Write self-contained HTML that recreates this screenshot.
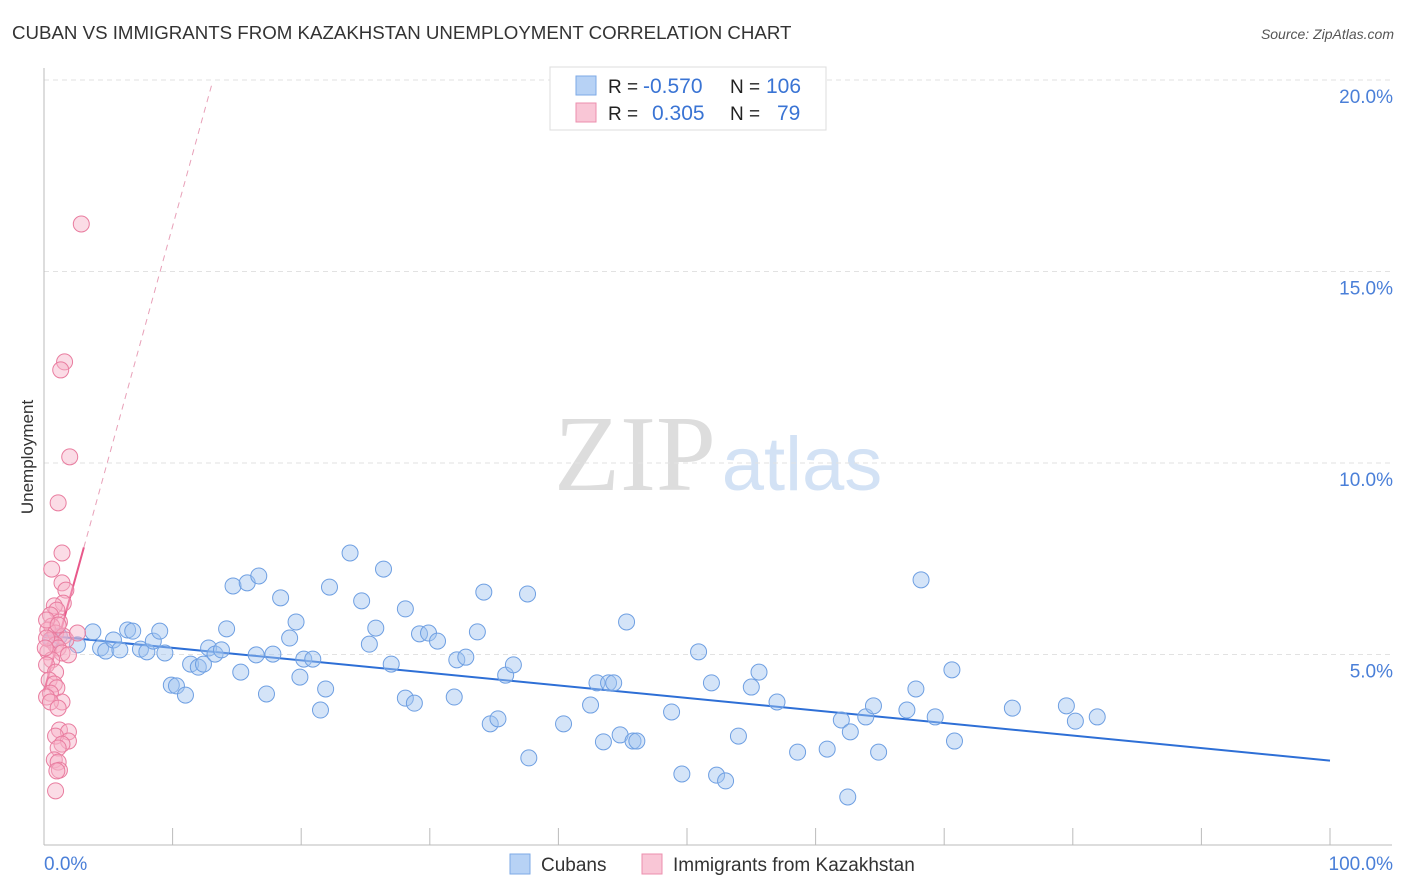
<!DOCTYPE html>
<html><head><meta charset="utf-8"><style>
body{margin:0;background:#fff;font-family:"Liberation Sans",sans-serif;}
#wrap{position:relative;width:1406px;height:892px;overflow:hidden;}
</style></head><body><div id="wrap">
<svg id="svg" width="1406" height="892" xmlns="http://www.w3.org/2000/svg">
<text x="12" y="39" font-size="18.7" fill="#333">CUBAN VS IMMIGRANTS FROM KAZAKHSTAN UNEMPLOYMENT CORRELATION CHART</text>
<text x="1394" y="39" font-size="14" fill="#555" font-style="italic" text-anchor="end">Source: ZipAtlas.com</text>
<text x="33" y="457" font-size="17" fill="#333" text-anchor="middle" transform="rotate(-90 33 457)">Unemployment</text>
<g><text x="635" y="490" font-size="108" fill="#ddd" font-family="Liberation Serif,serif" text-anchor="middle">ZIP</text><text x="802" y="490" font-size="76" fill="#d3e2f5" text-anchor="middle">atlas</text></g>
<g id="grid"></g><g id="axes"></g><g id="trend"></g><g id="pts"></g>
<g>
<rect x="550" y="67" width="276" height="63" fill="#fff" stroke="#ddd"/>
<rect x="576" y="76" width="20" height="19" fill="#b7d2f5" stroke="#7eaae6"/>
<rect x="576" y="103" width="20" height="19" fill="#f9c6d6" stroke="#ec8fae"/>
<text x="608" y="93" font-size="19" fill="#222">R = </text><text x="643" y="93" font-size="21" fill="#3a74d4">-0.570</text>
<text x="730" y="93" font-size="19" fill="#222">N = </text><text x="766" y="93" font-size="21" fill="#3a74d4">106</text>
<text x="608" y="120" font-size="19" fill="#222">R = </text><text x="652" y="120" font-size="21" fill="#3a74d4">0.305</text>
<text x="730" y="120" font-size="19" fill="#222">N = </text><text x="777" y="120" font-size="21" fill="#3a74d4">79</text>
</g>
<g>
<rect x="510" y="854" width="20" height="20" fill="#b7d2f5" stroke="#7eaae6"/>
<text x="541" y="871" font-size="19" fill="#333">Cubans</text>
<rect x="642" y="854" width="20" height="20" fill="#f9c6d6" stroke="#ec8fae"/>
<text x="673" y="871" font-size="19" fill="#333">Immigrants from Kazakhstan</text>
</g>
</svg></div>
<script>
const yTicks=[5,10,15,20];
const blueX=[0.6,1.2,2.6,3.8,4.4,4.8,5.4,5.9,6.5,6.9,7.5,8.0,8.5,9.0,9.4,9.9,10.3,11.0,11.4,12.0,12.4,12.8,13.3,13.8,14.2,15.3,14.7,15.8,16.7,16.5,17.3,17.8,18.4,19.1,19.6,19.9,20.2,20.9,21.5,21.9,22.2,23.8,24.7,25.3,25.8,26.4,27.0,28.1,28.1,28.8,29.2,29.9,30.6,31.9,32.1,32.8,33.7,34.2,34.7,35.3,35.9,36.5,37.6,37.7,40.4,42.5,43.0,43.5,43.9,44.3,44.8,45.3,45.8,46.1,48.8,49.6,50.9,51.9,52.3,53.0,54.0,55.0,55.6,57.0,58.6,60.9,62.0,62.5,62.7,63.9,64.5,64.9,67.1,67.8,68.2,69.3,70.6,70.8,75.3,79.5,80.2,81.9];
const blueY=[5.38,5.48,5.25,5.59,5.17,5.09,5.38,5.12,5.64,5.61,5.14,5.07,5.35,5.61,5.04,4.20,4.18,3.94,4.75,4.67,4.75,5.17,5.01,5.12,5.67,4.54,6.79,6.87,7.05,4.99,3.97,5.01,6.48,5.43,5.85,4.41,4.88,4.88,3.55,4.10,6.76,7.65,6.40,5.27,5.69,7.23,4.75,6.19,3.86,3.73,5.54,5.56,5.35,3.89,4.86,4.93,5.59,6.63,3.19,3.32,4.46,4.73,6.58,2.30,3.19,3.68,4.26,2.72,4.26,4.26,2.90,5.85,2.74,2.74,3.50,1.88,5.07,4.26,1.85,1.70,2.87,4.15,4.54,3.76,2.45,2.53,3.29,1.28,2.98,3.37,3.66,2.45,3.55,4.10,6.95,3.37,4.60,2.74,3.60,3.66,3.26,3.37];
const pinkX=[2.9,1.6,1.3,2.0,1.1,1.4,0.6,1.4,1.7,1.5,0.8,1.0,0.5,1.2,0.6,0.3,0.9,1.5,1.7,2.6,0.5,0.9,1.1,0.3,1.4,1.9,0.6,0.2,0.9,0.4,0.8,1.0,0.5,0.2,1.4,0.5,1.1,1.2,1.9,0.9,1.9,1.4,1.1,0.8,1.1,1.2,1.0,0.9,0.2,0.1,0.2,1.1];
const pinkY=[16.24,12.64,12.43,10.16,8.96,7.65,7.23,6.87,6.68,6.34,6.27,6.16,6.03,5.85,5.74,5.64,5.56,5.48,5.38,5.56,5.38,5.25,5.17,5.07,5.04,4.99,4.86,4.73,4.54,4.33,4.23,4.13,3.99,3.89,3.76,3.76,3.60,3.03,2.98,2.87,2.74,2.66,2.56,2.25,2.19,1.98,1.96,1.44,5.43,5.17,5.90,5.77];
const blueTrend=[5.5,2.23];
const pinkTrend=[4.03,1.215];
const NS='http://www.w3.org/2000/svg';
const X0=44,X1=1330,Y0=846,YS=38.3;
const sx=v=>X0+(X1-X0)*v/100, sy=v=>Y0-v*YS;
function mk(tag,attrs,parent){const e=document.createElementNS(NS,tag);for(const k in attrs)e.setAttribute(k,attrs[k]);document.getElementById(parent).appendChild(e);return e;}
yTicks.forEach(t=>{
 const l=mk('line',{x1:44,x2:1392,y1:sy(t),y2:sy(t),stroke:'#e2e2e2','stroke-dasharray':'5,4'},'grid');
 
 
 const tx=mk('text',{x:1393,y:sy(t)+23,'font-size':19,fill:'#4a7fd8','text-anchor':'end'},'grid');tx.textContent=t.toFixed(1)+'%';
 
 
});
const ax=mk('line',{x1:44,x2:1392,y1:845,y2:845,stroke:'#bbb'},'axes');


const ay=mk('line',{x1:44,x2:44,y1:68,y2:845,stroke:'#bbb'},'axes');


for(let i=0;i<=10;i++){const t=mk('line',{x1:sx(i*10),x2:sx(i*10),y1:828,y2:845,stroke:'#bbb'},'axes');
 
 }
const l0=mk('text',{x:44,y:870,'font-size':19,fill:'#4a7fd8'},'axes');l0.textContent='0.0%';


const l1=mk('text',{x:1393,y:870,'font-size':19,fill:'#4a7fd8','text-anchor':'end'},'axes');l1.textContent='100.0%';


blueX.forEach((x,i)=>{const c=mk('circle',{cx:sx(x),cy:sy(blueY[i]),r:8,fill:'rgba(160,196,240,0.45)',stroke:'#6e9fe2','stroke-width':1},'pts');
 
 });
pinkX.forEach((x,i)=>{const c=mk('circle',{cx:sx(x),cy:sy(pinkY[i]),r:8,fill:'rgba(246,178,200,0.45)',stroke:'#e97c9f','stroke-width':1},'pts');
 
 });
const bt=mk('line',{x1:sx(0),y1:sy(blueTrend[0]),x2:sx(100),y2:sy(blueTrend[1]),stroke:'#2e6fd6','stroke-width':2},'trend');


const pe=(19.95-pinkTrend[0])/pinkTrend[1];
const pt1=mk('line',{x1:sx(0),y1:sy(pinkTrend[0]),x2:sx(3.1),y2:sy(pinkTrend[0]+pinkTrend[1]*3.1),stroke:'#e8588a','stroke-width':2},'trend');


const pt2=mk('line',{x1:sx(3.1),y1:sy(pinkTrend[0]+pinkTrend[1]*3.1),x2:sx(pe),y2:sy(19.95),stroke:'#e8a0b8','stroke-width':1,'stroke-dasharray':'6,5'},'trend');


</script></body></html>
